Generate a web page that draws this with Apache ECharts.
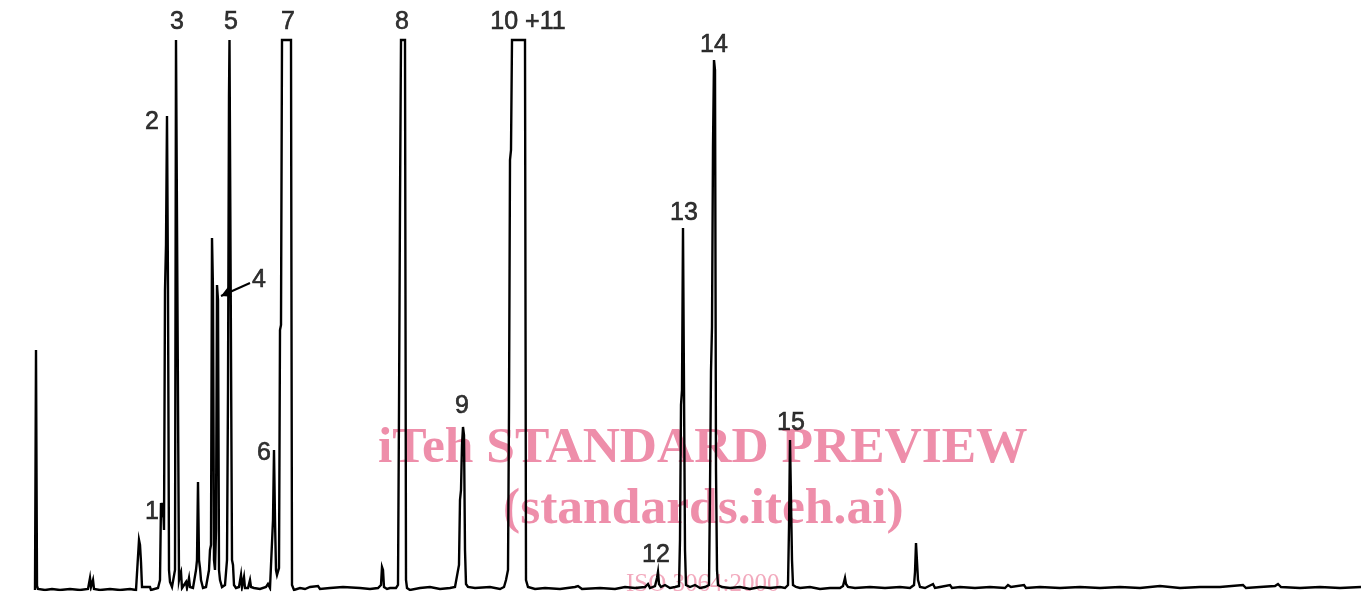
<!DOCTYPE html>
<html>
<head>
<meta charset="utf-8">
<script src="https://cdn.jsdelivr.net/npm/echarts@6/dist/echarts.min.js"></script>
<style>
html,body{margin:0;padding:0;background:#fff;}
#c{width:1361px;height:594px;}
</style>
</head>
<body>
<div id="c"></div>
<script>
// Retention position (x) and detector response (height above baseline)
var retention = [35,36,37,38,45,52,60,70,80,88,90,91,92,93,94,100,110,120,130,136,138,139,140,141,142,144,150,151,158,
159,160,161,162,163,164,165,166,167,168,169,170,172,174,175,176,178,179,180,181,182,
183,186,187,189,190,193,196,197,198,199,200,201,203,206,209,210,211,212,213,214,215,216,217,218,219,220,222,225,227,228,229,229.5,231.5,232,233,234,236,239,241,242,244,245,248,250,251,254,260,266,268,270,272,273,274,275,276,277,279,280,281,282,291,292,294,
300,305,310,318,320,330,343,345,360,370,378,381,382,383,384,387,390,396,398,399,400,401,405,406,407,410,420,430,440,450,455,457,459,460,461,462,463,464,465,466,468,475,490,500,504,506,508,509,510,511,512,525,526,528,
535,545,560,575,578,582,600,615,625,635,645,648,650,655,657,658,659,661,665,670,675,679,680,681,682,683,684,685,686,690,695,700,705,709,710,711,712,713,714,715,716,717,718,722,730,740,750,760,770,780,785,788,789,790,791,792,793,796,
800,810,820,830,840,843,845,846,848,855,870,885,900,910,914,915,916,917,918,920,925,933,935,940,950,952,960,975,990,1005,1008,1011,1024,1026,1040,1060,1080,1100,1120,1140,1160,1180,1200,1220,1243,1246,1260,1275,1278,1281,1300,1320,1340,1361];
var response = [0,240,4,1,0,1,0,1,0,1,12,3,2,10,1,0,1,0,1,0,2,50,45,28,3,1,3,0,2,
4,10,87,80,87,60,300,345,474,300,20,8,3,5,20,550,550,10,15,18,2,
3,8,2,12,3,2,20,30,108,30,22,10,2,3,20,40,45,352,300,30,20,60,305,290,20,10,3,5,30,200,495,550,550,30,25,5,2,3,15,3,13,2,2,10,3,2,1,3,6,2,3,70,140,70,20,15,22,260,265,550,550,5,0,
2,1,3,4,1,2,3,1,2,1,2,5,23,20,3,1,2,2,5,180,385,550,550,10,2,0,2,3,1,2,3,5,25,90,100,145,163,155,40,6,3,2,3,1,3,10,20,180,430,440,550,550,10,3,
1,2,1,3,4,1,2,1,3,2,3,6,2,4,12,18,6,3,5,2,3,4,50,185,200,362,360,40,5,3,5,2,3,5,100,219,263,444,530,520,120,20,5,3,2,3,1,3,2,3,2,5,62,150,148,30,5,3,
2,3,1,2,2,4,12,6,3,2,3,2,3,2,5,18,47,45,10,3,2,6,2,3,5,2,3,2,3,2,5,3,5,2,3,2,3,2,3,2,4,2,3,3,5,2,3,4,6,3,2,3,2,3];

// Peak labels: position and text
var labelX = [152,152,177,259,231,264,288,402,462,528,656,684,714,791];
var labelY = [78,468,568,310,568,137,568,568,184,568,35,377,545,167];
var labelText = ['1','2','3','4','5','6','7','8','9','10 +11','12','13','14','15'];

var trace = retention.map(function(x,i){return [x,response[i]];});
var labels = labelX.map(function(x,i){return [x,labelY[i],labelText[i]];});

var chart = echarts.init(document.getElementById('c'));
chart.setOption({
  animation:false,
  backgroundColor:'#ffffff',
  grid:{left:0,right:0,top:0,bottom:4,containLabel:false},
  xAxis:{type:'value',min:0,max:1361,show:false},
  yAxis:{type:'value',min:0,max:590,show:false},
  graphic:[
    {type:'text',z:0,left:378,top:423,style:{text:'iTeh STANDARD PREVIEW',font:'bold 51.5px "Liberation Serif", "DejaVu Serif", serif',fill:'#ee8eaa'}},
    {type:'text',z:0,left:503,top:484,style:{text:'(standards.iteh.ai)',font:'bold 51.5px "Liberation Serif", "DejaVu Serif", serif',fill:'#ee8eaa'}},
    {type:'text',z:0,left:626,top:572,style:{text:'ISO 3064:2000',font:'25px "Liberation Serif", "DejaVu Serif", serif',fill:'#f2a9bd'}}
  ],
  series:[
    {type:'line',z:5,data:trace,smooth:false,sampling:null,showSymbol:false,symbol:'none',
     lineStyle:{color:'#000',width:2.4,join:'miter'},
     markLine:{silent:true,symbol:['none','arrow'],symbolSize:[8,10],lineStyle:{color:'#000',width:2,type:'solid'},label:{show:false},
       data:[[{coord:[250,307]},{coord:[221,294]}]]}},
    {type:'scatter',z:6,data:labels,symbolSize:1,itemStyle:{color:'rgba(0,0,0,0)'},
     label:{show:true,position:'inside',color:'#000',fontSize:25,fontFamily:'"Liberation Sans", Arial, sans-serif',
       textBorderColor:'#000',textBorderWidth:0.6,
       formatter:function(p){return p.data[2];}}}
  ]
});
</script>
</body>
</html>
